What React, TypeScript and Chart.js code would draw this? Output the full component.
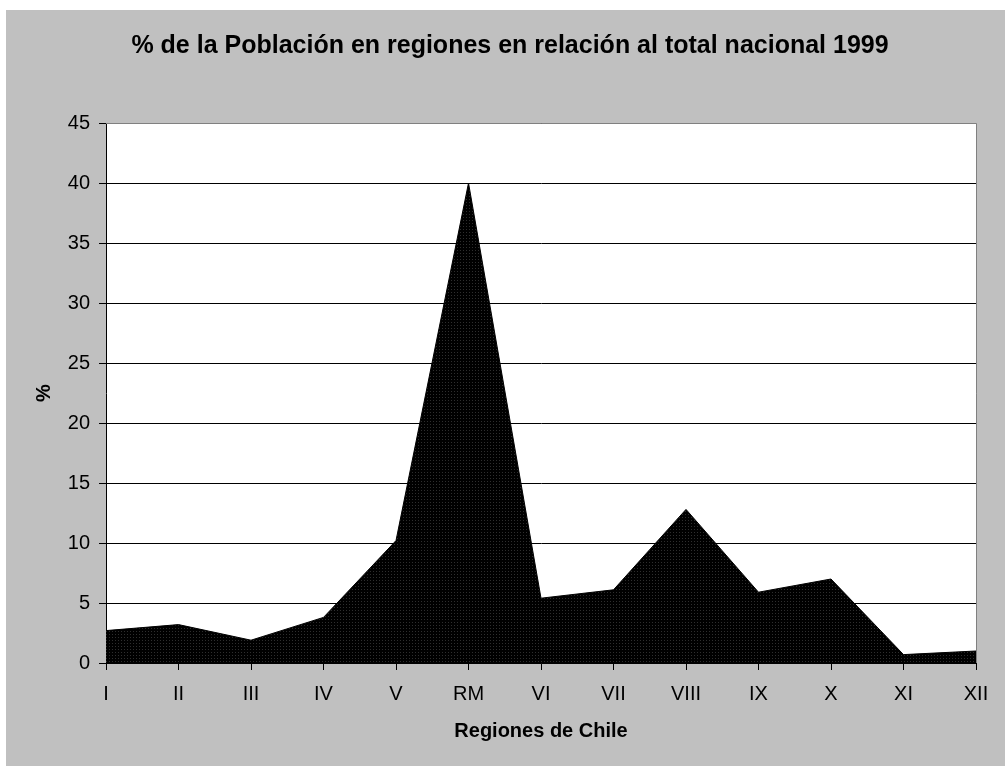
import React, { useEffect, useRef } from "react";
import { Chart, registerables } from "chart.js";

Chart.register(...registerables);

const TITLE = "% de la Población en regiones en relación al total nacional 1999";
const X_TITLE = "Regiones de Chile";
const Y_TITLE = "%";
const regions = ["I", "II", "III", "IV", "V", "RM", "VI", "VII", "VIII", "IX", "X", "XI", "XII"];
const populationPct = [2.7, 3.2, 1.9, 3.8, 10.2, 40.0, 5.4, 6.1, 12.8, 5.9, 7.0, 0.7, 1.0];
const yMin = 0;
const yMax = 45;
const yStep = 5;

const FONT = "Arial, 'Liberation Sans', sans-serif";

export default function App() {
  const ref = useRef<HTMLCanvasElement | null>(null);

  useEffect(() => {
    const canvas = ref.current;
    if (!canvas) return;

    const pc = document.createElement("canvas");
    pc.width = 3;
    pc.height = 3;
    const pctx = pc.getContext("2d")!;
    pctx.fillStyle = "#000";
    pctx.fillRect(0, 0, 3, 3);
    pctx.fillStyle = "#2e2e2e";
    pctx.fillRect(1, 1, 1, 1);
    const ctx0 = canvas.getContext("2d")!;
    const pattern = ctx0.createPattern(pc, "repeat") || "#111";

    const bgPlugin = {
      id: "bgPlugin",
      beforeDraw(chart: any) {
        const { ctx, chartArea } = chart;
        ctx.save();
        ctx.fillStyle = "#ffffff";
        ctx.fillRect(0, 0, chart.width, chart.height);
        ctx.fillStyle = "#c0c0c0";
        ctx.fillRect(6, 10, chart.width - 6, chart.height - 10);
        ctx.fillStyle = "#ffffff";
        ctx.fillRect(chartArea.left, chartArea.top, chartArea.right - chartArea.left, chartArea.bottom - chartArea.top);
        ctx.fillStyle = "#000";
        ctx.font = `bold 25px ${FONT}`;
        ctx.textAlign = "center";
        ctx.textBaseline = "middle";
        ctx.fillText(TITLE, 510, 46);
        ctx.restore();
      },
      afterDraw(chart: any) {
        const { ctx, chartArea } = chart;
        ctx.save();
        ctx.strokeStyle = "#808080";
        ctx.lineWidth = 1;
        ctx.beginPath();
        ctx.moveTo(chartArea.left, chartArea.top + 0.5);
        ctx.lineTo(chartArea.right + 0.5, chartArea.top + 0.5);
        ctx.lineTo(chartArea.right + 0.5, chartArea.bottom);
        ctx.stroke();
        ctx.restore();
      },
    };

    const chart = new Chart(canvas, {
      type: "line",
      data: {
        labels: regions,
        datasets: [
          {
            data: populationPct,
            fill: "origin",
            backgroundColor: pattern as any,
            borderColor: "#000",
            borderWidth: 1,
            pointRadius: 0,
            tension: 0,
          },
        ],
      },
      options: {
        responsive: false,
        animation: false,
        layout: { padding: { top: 123, right: 29, bottom: 0, left: 0 } },
        plugins: {
          legend: { display: false },
          title: { display: false },
          tooltip: { enabled: false },
        },
        scales: {
          x: {
            type: "category",
            offset: false,
            afterFit(scale: any) {
              scale.height = 103;
            },
            grid: {
              drawOnChartArea: false,
              drawTicks: true,
              tickLength: 7,
              color: "#000",
              lineWidth: 1,
            },
            border: { display: true, color: "#000", width: 1 },
            ticks: {
              color: "#000",
              font: { family: FONT, size: 20 },
              padding: 12,
              maxRotation: 0,
              autoSkip: false,
            },
            title: {
              display: true,
              text: X_TITLE,
              color: "#000",
              font: { family: FONT, size: 20, weight: "bold" },
              padding: { top: 0, bottom: 23 },
            },
          },
          y: {
            min: yMin,
            max: yMax,
            afterFit(scale: any) {
              scale.width = 106;
            },
            grid: {
              drawOnChartArea: true,
              drawTicks: true,
              tickLength: 7,
              color: "#000",
              lineWidth: 1,
            },
            border: { display: true, color: "#000", width: 1 },
            ticks: {
              stepSize: yStep,
              color: "#000",
              font: { family: FONT, size: 20 },
              padding: 9,
            },
            title: {
              display: true,
              text: Y_TITLE,
              color: "#000",
              font: { family: FONT, size: 20, weight: "bold" },
              padding: { top: 32, bottom: 0 },
            },
          },
        },
      },
      plugins: [bgPlugin],
    });

    return () => chart.destroy();
  }, []);

  return (
    <div style={{ position: "fixed", left: 0, top: 0, width: 1005, height: 766 }}>
      <canvas ref={ref} width={1005} height={766} />
    </div>
  );
}
